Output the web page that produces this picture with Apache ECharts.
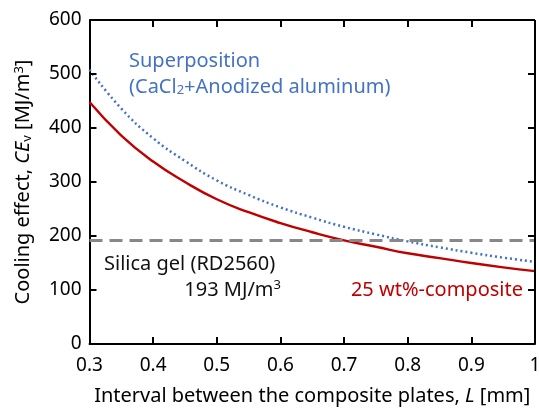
<!DOCTYPE html>
<html><head><meta charset="utf-8">
<script src="https://cdn.jsdelivr.net/npm/echarts@6/dist/echarts.min.js"></script>
<style>html,body{margin:0;padding:0;background:#fff}#c{width:539px;height:410px}</style>
</head><body><div id="c"></div>
<script>
const intervalL = [0.30,0.35,0.40,0.45,0.50,0.55,0.60,0.65,0.70,0.75,0.80,0.85,0.90,0.95,1.00];
const composite25 = [448,386,338,300,268,244,224,207,192,180,168,159,150,142,135];
const superposition = [508,436,381,339,303,276,253,234,217,203,190,179,169,160,152];
const silicaGel = 193;
const xTicks = {min:0.3, max:1.0, step:0.1};
const yTicks = {min:0, max:600, step:100};
const xInnerTicks = [0.4,0.5,0.6,0.7,0.8,0.9];
const yInnerTicks = [100,200,300,400,500];

const FONT = 'Noto Sans';
const chart = echarts.init(document.getElementById('c'));
const pair = (xs, ys) => xs.map((x,i)=>[x, ys[i]]);

const baseOption = {
  animation:false,
  grid:{left:89.5, right:4, top:20, bottom:66, containLabel:false, outerBoundsMode:'none'},
  xAxis:{type:'value', min:xTicks.min, max:xTicks.max, interval:xTicks.step, position:'bottom',
    axisLine:{show:true, onZero:false, lineStyle:{color:'#000', width:2}},
    axisTick:{show:false}, splitLine:{show:false},
    axisLabel:{fontFamily:FONT, fontSize:19, color:'#000', margin:12,
      formatter:v=>{const r=Math.round(v*10)/10; return r===1?'1':r.toFixed(1);}},
    name:'Interval between the composite plates, {i|L} [mm]', nameLocation:'middle', nameGap:42,
    nameTextStyle:{fontFamily:FONT, fontSize:20, color:'#000', rich:{i:{fontFamily:FONT, fontSize:20, fontStyle:'italic', color:'#000'}}}
  },
  yAxis:{type:'value', min:yTicks.min, max:yTicks.max, interval:yTicks.step, position:'left',
    axisLine:{show:true, onZero:false, lineStyle:{color:'#000', width:2}},
    axisTick:{show:false}, splitLine:{show:false},
    axisLabel:{fontFamily:FONT, fontSize:19, color:'#000', margin:8},
    name:'Cooling effect, {i|CE}{s|v} [MJ/m{p|3}]', nameLocation:'middle', nameGap:55,
    nameTextStyle:{fontFamily:FONT, fontSize:20, color:'#000',
      rich:{i:{fontFamily:FONT, fontSize:20, fontStyle:'italic', color:'#000'},
            s:{fontFamily:FONT, fontSize:13, color:'#000', padding:[7,0,0,0]},
            p:{fontFamily:FONT, fontSize:13, color:'#000', padding:[0,0,9,0]}}}
  },
  series:[
    {type:'line', name:'Superposition', data:pair(intervalL, superposition), smooth:true, symbol:'none',
      lineStyle:{color:'#4472c4', width:2.5, type:[2,3]}, z:3},
    {type:'line', name:'25 wt%-composite', data:pair(intervalL, composite25), smooth:true, symbol:'none',
      lineStyle:{color:'#c00000', width:2.4}, z:4}
  ],
  graphic:[
    {type:'text', x:129, y:61, style:{text:'Superposition', font:'20px "Noto Sans"', fill:'#4472c4', verticalAlign:'middle'}},
    {type:'text', x:129, y:87, style:{text:'(CaCl{s|2}+Anodized aluminum)', font:'20px "Noto Sans"', fill:'#4472c4', verticalAlign:'middle',
      rich:{s:{fontSize:13, fontFamily:FONT, fill:'#4472c4', padding:[7,0,0,0]}}}},
    {type:'text', x:104, y:264, style:{text:'Silica gel (RD2560)', font:'20px "Noto Sans"', fill:'#111', verticalAlign:'middle'}},
    {type:'text', x:281, y:290, style:{text:'193 MJ/m{p|3}', font:'20px "Noto Sans"', fill:'#111', align:'right', verticalAlign:'middle',
      rich:{p:{fontSize:13, fontFamily:FONT, fill:'#111', padding:[0,0,9,0]}}}},
    {type:'text', x:523, y:290, style:{text:'25 wt%-composite', font:'20px "Noto Sans"', fill:'#c00000', align:'right', verticalAlign:'middle'}}
  ]
};
chart.setOption(baseOption);

// tick length of 7 px expressed in data units through the chart's own scales
const TICK_PX = 7;
const p0 = chart.convertToPixel({gridIndex:0}, [xTicks.min, yTicks.min]);
const q = chart.convertFromPixel({gridIndex:0}, [p0[0] + TICK_PX, p0[1] - TICK_PX]);
const dx = q[0] - xTicks.min, dy = q[1] - yTicks.min;
const frameStyle = {color:'#000', width:2, type:'solid'};
const seg = (a, b) => [{coord:a, lineStyle:frameStyle}, {coord:b}];
const frameSegs = [];
frameSegs.push(seg([xTicks.min, yTicks.max], [xTicks.max, yTicks.max]));
frameSegs.push(seg([xTicks.max, yTicks.max], [xTicks.max, yTicks.min]));
xInnerTicks.forEach(v=>{
  frameSegs.push(seg([v, yTicks.min], [v, yTicks.min + dy]));
  frameSegs.push(seg([v, yTicks.max], [v, yTicks.max - dy]));
});
yInnerTicks.forEach(v=>{
  frameSegs.push(seg([xTicks.min, v], [xTicks.min + dx, v]));
  frameSegs.push(seg([xTicks.max, v], [xTicks.max - dx, v]));
});

chart.setOption({
  series:[
    {},
    {clip:false,
      markLine:{silent:true, symbol:'none', label:{show:false}, animation:false,
        lineStyle:{color:'#888', width:3, type:[13,7]},
        data:[{yAxis:silicaGel}].concat(frameSegs)}}
  ]
});
</script></body></html>
